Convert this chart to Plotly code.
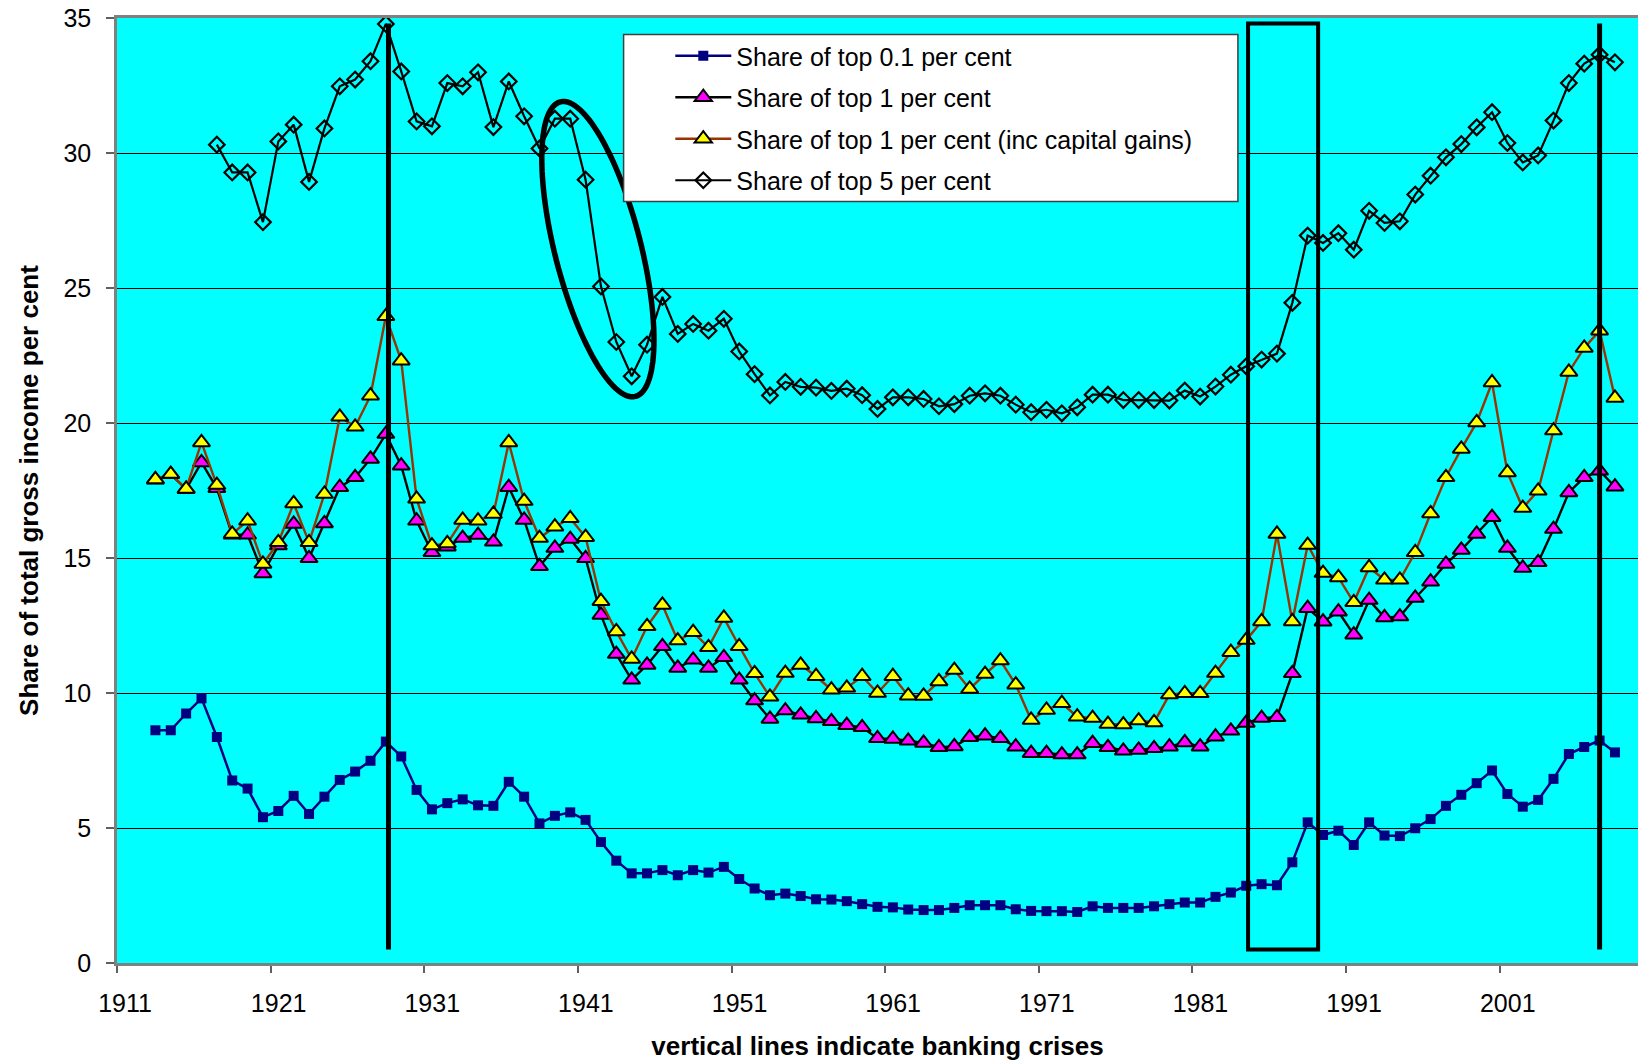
import numpy as np
import plotly.graph_objects as go

# ---------------- data ----------------
years = list(range(1913, 2009))
years_top5 = list(range(1917, 2009))

top01 = [8.62, 8.62, 9.24, 9.80, 8.37, 6.76, 6.46,
         5.40, 5.63, 6.19, 5.52, 6.16, 6.78, 7.09, 7.49, 8.20, 7.65,
         6.41, 5.69, 5.92, 6.06, 5.84, 5.82, 6.71, 6.16, 5.17, 5.45,
         5.58, 5.30, 4.48, 3.79, 3.32, 3.32, 3.44, 3.25, 3.44, 3.35,
         3.56, 3.11, 2.76, 2.51, 2.57, 2.48, 2.36, 2.35, 2.29, 2.18,
         2.08, 2.06, 1.98, 1.96, 1.96, 2.04, 2.14, 2.14, 2.14, 1.99,
         1.93, 1.92, 1.92, 1.89, 2.10, 2.04, 2.04, 2.04, 2.10, 2.18,
         2.24, 2.24, 2.45, 2.61, 2.86, 2.92, 2.88, 3.73, 5.21, 4.74,
         4.90, 4.37, 5.21, 4.72, 4.70, 4.99, 5.33, 5.82, 6.23, 6.66,
         7.13, 6.26, 5.79, 6.04, 6.82, 7.74, 8.00, 8.24, 7.80]

top1 = [17.90, 18.10, 17.55, 18.54, 17.58, 15.86, 15.86,
        14.43, 15.46, 16.26, 14.99, 16.28, 17.62, 17.99, 18.67, 19.59, 18.42,
        16.38, 15.21, 15.42, 15.74, 15.85, 15.60, 17.62, 16.41, 14.69, 15.37,
        15.70, 14.99, 12.89, 11.44, 10.49, 11.04, 11.73, 10.93, 11.23, 10.93,
        11.32, 10.49, 9.72, 9.04, 9.35, 9.19, 9.06, 8.95, 8.81, 8.73,
        8.32, 8.30, 8.23, 8.15, 7.99, 8.02, 8.36, 8.42, 8.32, 8.01,
        7.77, 7.77, 7.72, 7.72, 8.14, 7.99, 7.86, 7.89, 7.95, 8.01,
        8.17, 8.01, 8.38, 8.60, 8.89, 9.07, 9.10, 10.73, 13.14, 12.64,
        13.01, 12.16, 13.44, 12.80, 12.83, 13.52, 14.12, 14.78, 15.30, 15.89,
        16.51, 15.37, 14.63, 14.84, 16.07, 17.43, 17.99, 18.23, 17.64]

top1_cg = [17.91, 18.11, 17.56, 19.28, 17.70, 15.89, 16.38,
           14.78, 15.58, 17.02, 15.58, 17.37, 20.23, 19.86, 21.01, 23.95, 22.31,
           17.19, 15.46, 15.54, 16.41, 16.38, 16.63, 19.28, 17.11, 15.74, 16.16,
           16.47, 15.77, 13.40, 12.28, 11.26, 12.47, 13.26, 11.94, 12.25, 11.69,
           12.78, 11.73, 10.73, 9.86, 10.74, 11.04, 10.62, 10.12, 10.19, 10.62,
           10.00, 10.62, 9.90, 9.89, 10.43, 10.85, 10.15, 10.70, 11.20, 10.31,
           9.00, 9.37, 9.62, 9.12, 9.07, 8.85, 8.83, 8.98, 8.91, 9.94,
           9.99, 9.99, 10.74, 11.51, 11.96, 12.65, 15.89, 12.65, 15.48, 14.44,
           14.28, 13.36, 14.65, 14.19, 14.19, 15.21, 16.65, 17.99, 19.04, 20.02,
           21.50, 18.17, 16.85, 17.49, 19.72, 21.89, 22.78, 23.42, 20.93]

top5 = [30.31, 29.28, 29.28,
        27.44, 30.43, 31.05, 28.93, 30.91, 32.47, 32.72, 33.40, 34.78, 33.02,
        31.17, 30.99, 32.59, 32.47, 32.99, 30.96, 32.65, 31.36, 30.17, 31.27,
        31.27, 29.01, 25.06, 23.00, 21.73, 22.90, 24.67, 23.30, 23.67, 23.42,
        23.86, 22.65, 21.81, 21.02, 21.52, 21.34, 21.31, 21.19, 21.27, 21.03,
        20.52, 20.95, 20.95, 20.89, 20.62, 20.70, 21.01, 21.10, 21.01, 20.68,
        20.40, 20.49, 20.36, 20.58, 21.05, 21.05, 20.85, 20.85, 20.85, 20.83,
        21.20, 20.98, 21.35, 21.79, 22.10, 22.35, 22.57, 24.45, 26.94, 26.67,
        27.03, 26.42, 27.86, 27.41, 27.47, 28.46, 29.16, 29.84, 30.33, 30.95,
        31.51, 30.37, 29.65, 29.91, 31.20, 32.59, 33.31, 33.64, 33.36]

series_names = ["Share of top 0.1 per cent", "Share of top 1 per cent",
                "Share of top 1 per cent (inc capital gains)", "Share of top 5 per cent"]

tick_labels = [str(y) for y in range(1911, 2002, 10)]

# banking-crisis annotations (in data units)
crisis_lines = [1928.17, 2007.0]
crisis_box = (1984.12, 1988.68)
crisis_span = (0.5, 34.8)
# highlighted dip: centre (year, value), semi-axes in px, tilt from vertical in degrees
ellipse_centre = (1941.8, 26.44)
ellipse_axes_px = (152, 43)
ellipse_tilt_deg = 14.3

# ---------------- layout geometry ----------------
W, H = 1638, 1061
M_L, M_R, M_T, M_B = 117, 0, 18, 98
X_RANGE = [1910.5, 2009.5]
Y_RANGE = [0, 35]
plot_w = W - M_L - M_R
plot_h = H - M_T - M_B
px_per_year = plot_w / (X_RANGE[1] - X_RANGE[0])
px_per_unit = plot_h / (Y_RANGE[1] - Y_RANGE[0])

FONT = "Liberation Sans, Arial, sans-serif"

fig = go.Figure()
fig.add_trace(go.Scatter(
    x=years, y=top01, name=series_names[0], mode="lines+markers",
    line=dict(color="#000080", width=2.5),
    marker=dict(symbol="square", size=10, color="#000080"),
    legendgroup="a"))
fig.add_trace(go.Scatter(
    x=years, y=top1, name=series_names[1], mode="lines+markers",
    line=dict(color="#000000", width=2.4),
    marker=dict(symbol="triangle-up", size=15, color="#FF00FF",
                line=dict(color="#000000", width=2)),
    legendgroup="b"))
fig.add_trace(go.Scatter(
    x=years, y=top1_cg, name=series_names[2], mode="lines+markers",
    line=dict(color="#993300", width=2.4),
    marker=dict(symbol="triangle-up", size=15, color="#FFFF00",
                line=dict(color="#000000", width=2)),
    legendgroup="c"))
fig.add_trace(go.Scatter(
    x=years_top5, y=top5, name=series_names[3], mode="lines+markers",
    line=dict(color="#000000", width=2.2),
    marker=dict(symbol="diamond-open", size=12, color="#000000",
                line=dict(color="#000000", width=2.2)),
    legendgroup="d"))

shapes = []
for cx in crisis_lines:
    shapes.append(dict(type="line", xref="x", yref="y", x0=cx, x1=cx,
                       y0=crisis_span[0], y1=crisis_span[1],
                       line=dict(color="black", width=5), layer="above"))
shapes.append(dict(type="rect", xref="x", yref="y",
                   x0=crisis_box[0], x1=crisis_box[1],
                   y0=crisis_span[0], y1=crisis_span[1],
                   line=dict(color="black", width=4), layer="above"))

# rotated ellipse path
t = np.linspace(0, 2 * np.pi, 121)
th = np.deg2rad(ellipse_tilt_deg)
a, b = ellipse_axes_px
d = np.array([np.sin(th), np.cos(th)])      # major axis direction (screen, y down)
n = np.array([np.cos(th), -np.sin(th)])     # minor axis direction
ox = a * np.cos(t) * d[0] + b * np.sin(t) * n[0]
oy = a * np.cos(t) * d[1] + b * np.sin(t) * n[1]
ex = ellipse_centre[0] + ox / px_per_year
ey = ellipse_centre[1] - oy / px_per_unit
path = "M " + " L ".join(f"{xx:.4f},{yy:.4f}" for xx, yy in zip(ex, ey)) + " Z"
shapes.append(dict(type="path", xref="x", yref="y", path=path,
                   line=dict(color="black", width=5.5), layer="above"))

# legend frame
def px2paper_x(px):
    return (px - M_L) / plot_w

def px2paper_y(py):
    return (H - M_B - py) / plot_h

shapes.append(dict(type="rect", xref="paper", yref="paper",
                   x0=px2paper_x(623.6), x1=px2paper_x(1237.9),
                   y0=px2paper_y(201.6), y1=px2paper_y(34.5),
                   fillcolor="white", line=dict(color="#404040", width=1.5),
                   layer="above"))

fig.update_layout(
    width=W, height=H,
    margin=dict(l=M_L, r=M_R, t=M_T, b=M_B, autoexpand=False),
    paper_bgcolor="white", plot_bgcolor="#00FFFF",
    font=dict(family=FONT, size=25, color="black"),
    shapes=shapes,
    showlegend=True,
    legend=dict(x=px2paper_x(670.3), y=px2paper_y(33), xanchor="left", yanchor="top",
                bgcolor="rgba(0,0,0,0)", borderwidth=0,
                font=dict(family=FONT, size=25, color="black"),
                itemwidth=56, tracegroupgap=6, traceorder="grouped"),
    xaxis=dict(range=X_RANGE, tickmode="array",
               tickvals=[1910.5 + 10 * i for i in range(len(tick_labels))],
               ticktext=tick_labels, ticklabelshift=8, ticklabelstandoff=9,
               ticks="outside", ticklen=7, tickwidth=1.5, tickcolor="#606060",
               showline=True, linecolor="#808080", linewidth=2.5, mirror=True,
               showgrid=False, zeroline=False,
               tickfont=dict(size=25),
               title=dict(text="<b>vertical lines indicate banking crises</b>",
                          font=dict(size=26), standoff=22)),
    yaxis=dict(range=Y_RANGE, tickvals=list(range(0, 36, 5)),
               ticks="outside", ticklen=8, tickwidth=1.5, tickcolor="#606060",
               ticklabelstandoff=10,
               showline=True, linecolor="#808080", linewidth=2.5,
               showgrid=True, gridcolor="black", gridwidth=1, zeroline=False,
               tickfont=dict(size=25),
               title=dict(text="<b>Share of total gross income per cent</b>",
                          font=dict(size=26), standoff=18)),
)

fig.write_html("out.html")
